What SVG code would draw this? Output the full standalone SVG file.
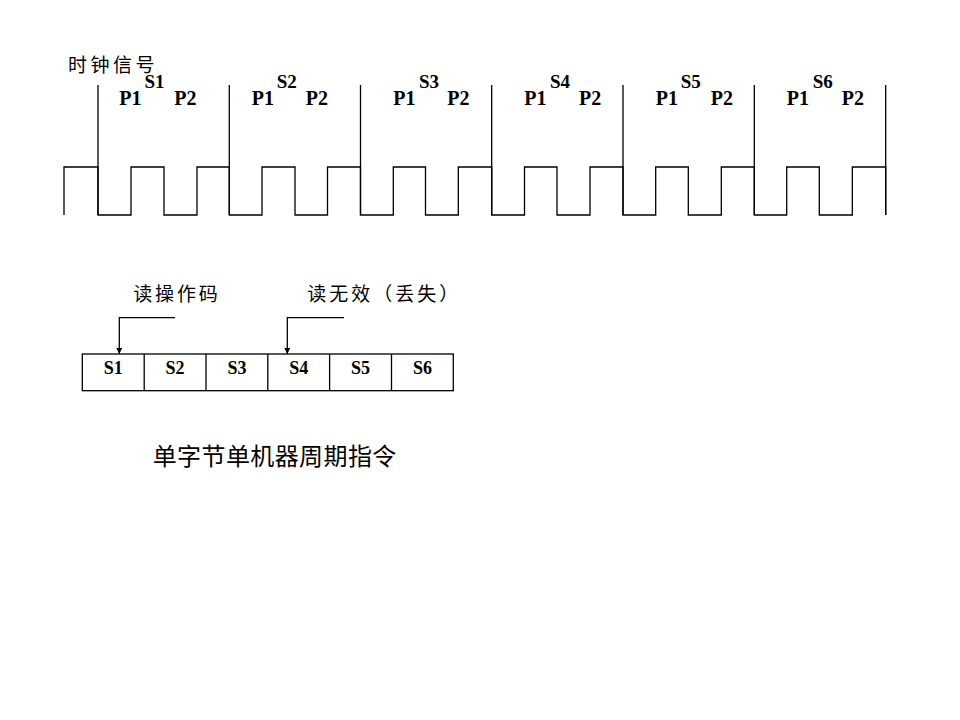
<svg xmlns="http://www.w3.org/2000/svg" width="960" height="720" viewBox="0 0 960 720">
<style>
.ln{fill:none;stroke:#000;stroke-width:1.3}
.lat{font-family:"Liberation Serif","Times New Roman",serif;font-weight:bold;fill:#000}
.s{font-size:19px}
.p{font-size:20px}
.cell{font-family:"Liberation Serif","Times New Roman",serif;font-weight:bold;font-size:18px;fill:#000;text-anchor:middle}
.cjk{font-family:"Noto Sans CJK SC","Noto Sans CJK TC",sans-serif;fill:#000}
</style>
<defs>
<marker id="ah" markerUnits="userSpaceOnUse" markerWidth="8" markerHeight="8" refX="6" refY="3" orient="auto">
<path d="M0,0 L6,3 L0,6 Z" fill="#000"/>
</marker>
</defs>
<rect width="960" height="720" fill="#fff"/>

<g id="clock">
<text class="cjk" x="68" y="72" font-size="19" letter-spacing="3.5">时钟信号</text>
<path class="ln" d="M64,215 V167 H98 V215 H131 V167 H164 V215 H197 V167 H229.3 V215 H262 V167 H295 V215 H327.5 V167 H360.5 V215 H393.3 V167 H425.5 V215 H458.3 V167 H491.7 V215 H524.5 V167 H557 V215 H590 V167 H623 V215 H655.7 V167 H688.3 V215 H721.3 V167 H754.3 V215 H786.7 V167 H819.3 V215 H852.3 V167 H885.7 V215"/>
<path class="ln" d="M98,85 V215 M229.3,85 V215 M360.5,85 V215 M491.7,85 V215 M623,85 V215 M754.3,85 V215 M885.7,85 V215"/>
</g>

<g id="state-labels">
<text class="lat s" x="144.5" y="88">S1</text>
<text class="lat p" x="119.3" y="105">P1</text>
<text class="lat p" x="174.3" y="105">P2</text>

<text class="lat s" x="276.7" y="88">S2</text>
<text class="lat p" x="251.7" y="105">P1</text>
<text class="lat p" x="305.7" y="105">P2</text>

<text class="lat s" x="419" y="88">S3</text>
<text class="lat p" x="393.3" y="105">P1</text>
<text class="lat p" x="447.3" y="105">P2</text>

<text class="lat s" x="550" y="88">S4</text>
<text class="lat p" x="524.3" y="105">P1</text>
<text class="lat p" x="579" y="105">P2</text>

<text class="lat s" x="680.7" y="88">S5</text>
<text class="lat p" x="655.7" y="105">P1</text>
<text class="lat p" x="710.7" y="105">P2</text>

<text class="lat s" x="812.7" y="88">S6</text>
<text class="lat p" x="786.7" y="105">P1</text>
<text class="lat p" x="841.7" y="105">P2</text>
</g>

<g id="cycle-box">
<rect class="ln" x="82.3" y="354" width="371" height="36.7"/>
<path class="ln" d="M144.2,354 V390.7 M206,354 V390.7 M267.8,354 V390.7 M329.6,354 V390.7 M391.5,354 V390.7"/>
<text class="cell" x="113.2" y="374">S1</text>
<text class="cell" x="175.1" y="374">S2</text>
<text class="cell" x="236.9" y="374">S3</text>
<text class="cell" x="298.7" y="374">S4</text>
<text class="cell" x="360.5" y="374">S5</text>
<text class="cell" x="422.4" y="374">S6</text>
</g>

<g id="label-read-opcode">
<text class="cjk" x="133.3" y="300.5" font-size="19" letter-spacing="2.8">读操作码</text>
</g>
<g id="label-read-invalid">
<text class="cjk" x="307.3" y="300.5" font-size="19" letter-spacing="3">读无效（丢失）</text>
</g>

<g id="connectors">
<path class="ln" d="M175,317.7 H119.3 V354" marker-end="url(#ah)"/>
<path class="ln" d="M344,317.7 H287.3 V354" marker-end="url(#ah)"/>
</g>

<g id="caption">
<text class="cjk" x="152.7" y="465" font-size="24" letter-spacing="0.4">单字节单机器周期指令</text>
</g>
</svg>
